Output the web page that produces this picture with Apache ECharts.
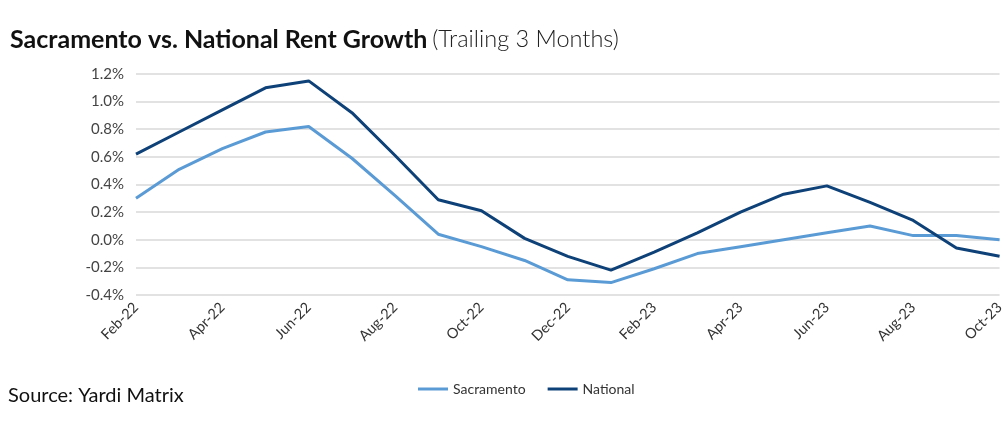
<!DOCTYPE html>
<html>
<head>
<meta charset="utf-8">
<script src="https://cdn.jsdelivr.net/npm/echarts@6/dist/echarts.min.js"></script>
<style>
  html, body { margin: 0; padding: 0; background: #fff; }
  #chart { width: 1007px; height: 433px; }
</style>
</head>
<body>
<div id="chart"></div>
<script>
const months = ['Feb-22', 'Mar-22', 'Apr-22', 'May-22', 'Jun-22', 'Jul-22', 'Aug-22', 'Sep-22', 'Oct-22', 'Nov-22', 'Dec-22',
  'Jan-23', 'Feb-23', 'Mar-23', 'Apr-23', 'May-23', 'Jun-23', 'Jul-23', 'Aug-23', 'Sep-23', 'Oct-23']
const sacramento = [0.30, 0.51, 0.66, 0.78, 0.82, 0.59, 0.32, 0.04, -0.05, -0.15, -0.29,
  -0.31, -0.21, -0.10, -0.05, 0.00, 0.05, 0.10, 0.03, 0.03, 0.00]
const national = [0.62, 0.78, 0.94, 1.10, 1.15, 0.92, 0.61, 0.29, 0.21, 0.01, -0.12,
  -0.22, -0.09, 0.05, 0.20, 0.33, 0.39, 0.27, 0.14, -0.06, -0.12]

const font = 'Lato, "Noto Sans", sans-serif'

const c = echarts.init(document.getElementById('chart'))
c.setOption({
  animation: false,
  title: {
    left: 5, top: 22,
    text: '{a|Sacramento vs. National Rent Growth} {b|(Trailing 3 Months)}',
    textStyle: {
      rich: {
        a: { fontFamily: font, fontSize: 25, fontWeight: 'bold', color: '#111' },
        b: { fontFamily: font, fontSize: 23.5, fontWeight: 300, color: '#222' }
      }
    }
  },
  graphic: [{
    type: 'text', left: 8, top: 386,
    style: { text: 'Source: Yardi Matrix', font: '20px ' + font, fill: '#111' }
  }],
  legend: {
    top: 377, left: 413, itemWidth: 30, itemHeight: 3, itemGap: 22,
    icon: 'rect',
    textStyle: { fontFamily: font, fontSize: 14, color: '#333' },
    data: ['Sacramento', 'National']
  },
  grid: { left: 136, right: 7, top: 74, bottom: 138 },
  xAxis: {
    type: 'category', data: months, boundaryGap: false,
    axisLine: { show: false }, axisTick: { show: false },
    axisLabel: { interval: 1, rotate: 45, margin: 10, fontFamily: font, fontSize: 14.5, color: '#333' }
  },
  yAxis: {
    type: 'value', min: -0.4, max: 1.2, interval: 0.2,
    axisLine: { show: false }, axisTick: { show: false },
    splitLine: { lineStyle: { color: '#d9d9d9', width: 1.5 } },
    axisLabel: { margin: 12, fontFamily: font, fontSize: 15, color: '#444', formatter: v => v.toFixed(1) + '%' }
  },
  series: [
    { name: 'Sacramento', type: 'line', data: sacramento, symbol: 'none', lineStyle: { width: 3, color: '#5b9bd5' }, itemStyle: { color: '#5b9bd5' } },
    { name: 'National', type: 'line', data: national, symbol: 'none', lineStyle: { width: 3, color: '#0e4177' }, itemStyle: { color: '#0e4177' } }
  ]
})
</script>
</body>
</html>
